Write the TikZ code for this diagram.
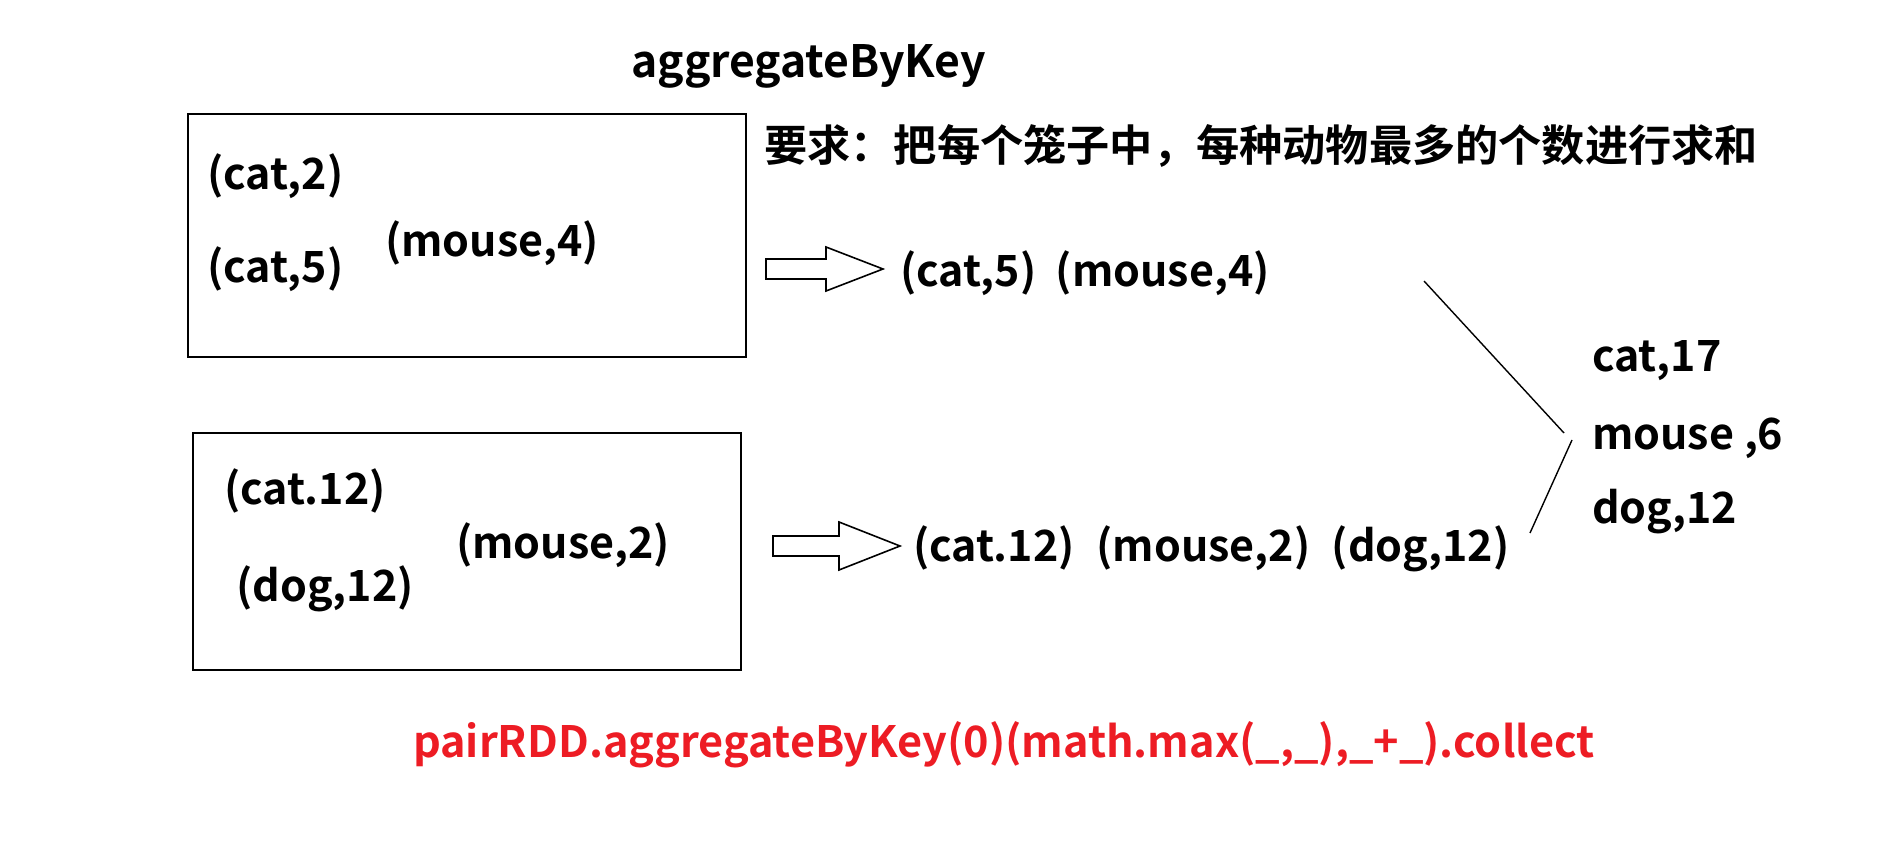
\documentclass[tikz,border=0pt]{standalone}
\usepackage{fontspec}
\setmainfont{Noto Sans CJK SC}[BoldFont={Noto Sans CJK SC Bold}]
\newfontfamily\cjkb{Noto Sans CJK SC Bold}
\definecolor{codered}{RGB}{237,28,36}
\begin{document}
\begin{tikzpicture}[x=1pt,y=-1pt,
  txt/.style={anchor=west,inner sep=0pt,font=\fontsize{43}{45}\selectfont\bfseries},
  title/.style={anchor=west,inner sep=0pt,font=\fontsize{44.5}{46}\selectfont\bfseries},
  cage/.style={draw,line width=2.2pt},
  blockarrow/.style={draw,line width=1.6pt,fill=white},
  thin/.style={draw,line width=1.4pt}]
\useasboundingbox[fill=white] (0,0) rectangle (1877,848);
\node[title] (ttl) at (631,66) {aggregateByKey};
\node[anchor=west,inner sep=0pt,font=\fontsize{43.2}{45}\cjkb] (req) at (764,146) {要求：把每个笼子中，每种动物最多的个数进行求和};
% top cage
\draw[cage] (188,114) rectangle (746,357);
\node[txt] (c2) at (207,176) {(cat,2)};
\node[txt] (c5) at (207,269) {(cat,5)};
\node[txt] (m4) at (385,243) {(mouse,4)};
\draw[blockarrow] (766,259) -- (826,259) -- (826,247) -- (883,269) -- (826,291) -- (826,279) -- (766,279) -- cycle;
\node[txt] (r1) at (900,273) {(cat,5)\hspace{0.45em}(mouse,4)};
% bottom cage
\draw[cage] (193,433) rectangle (741,670);
\node[txt] (c12) at (224,491) {(cat.12)};
\node[txt] (m2) at (456,545) {(mouse,2)};
\node[txt] (d12) at (236,589) {(dog,12)};
\draw[blockarrow] (773,536) -- (839,536) -- (839,522) -- (900,546) -- (839,570) -- (839,556) -- (773,556) -- cycle;
\node[txt] (r2) at (913,549) {(cat.12)\hspace{0.5em}(mouse,2)\hspace{0.5em}(dog,12)};
% result
\node[txt] (s1) at (1592,361) {cat,17};
\node[txt] (s2) at (1592,438) {mouse ,6};
\node[txt] (s3) at (1592,512) {dog,12};
\coordinate (l1a) at (1424,281);
\coordinate (l1b) at (1564,433);
\coordinate (l2a) at (1572,440);
\coordinate (l2b) at (1530,533);
\draw[thin] (l1a) -- (l1b);
\draw[thin] (l2a) -- (l2b);
\node[anchor=west,inner sep=0pt,text=codered,font=\fontsize{43.2}{45}\selectfont\bfseries] (code) at (413,745) {pairRDD.aggregateByKey(0)(math.max(\_,\_),\_+\_).collect};
\end{tikzpicture}
\end{document}
